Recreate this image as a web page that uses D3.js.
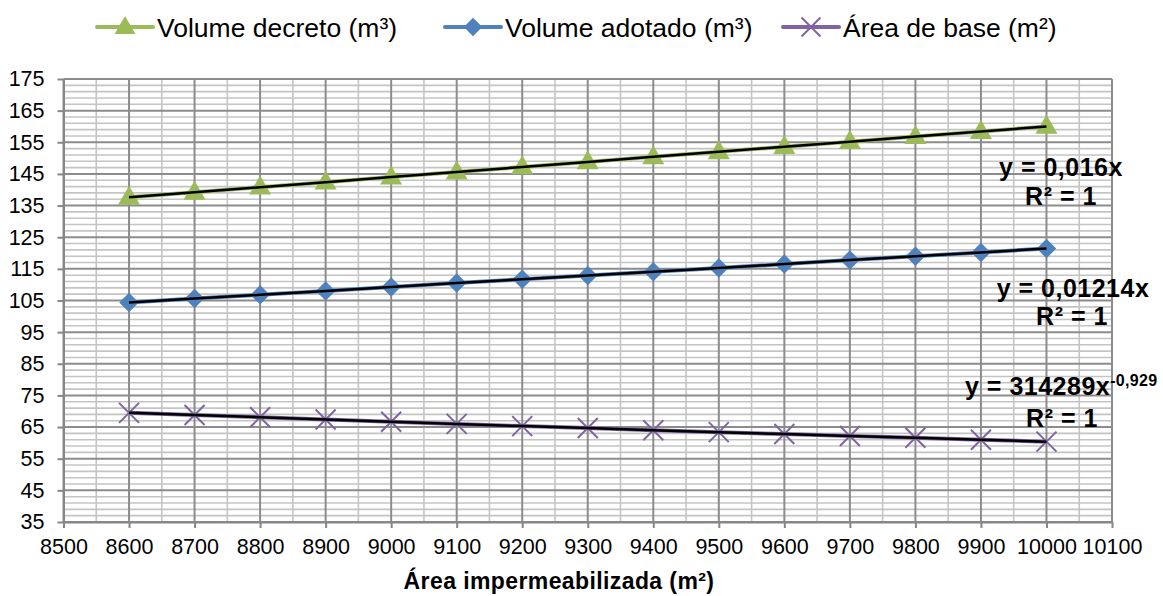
<!DOCTYPE html>
<html>
<head>
<meta charset="utf-8">
<script src="https://cdn.jsdelivr.net/npm/d3@7"></script>
<style>
  body { margin: 0; background: #fff; }
  svg { display: block; font-family: "Liberation Sans", Arial, sans-serif; }
</style>
</head>
<body>
<div class="svg-container"></div>
<script>
// data
const areas = [8600, 8700, 8800, 8900, 9000, 9100, 9200, 9300, 9400, 9500, 9600, 9700, 9800, 9900, 10000];
const volumeDecreto = [137.6, 139.2, 140.8, 142.4, 144.0, 145.6, 147.2, 148.8, 150.4, 152.0, 153.6, 155.2, 156.8, 158.4, 160.0];
const volumeAdotado = [104.4, 105.6, 106.8, 108.0, 109.3, 110.5, 111.7, 112.9, 114.1, 115.3, 116.5, 117.8, 119.0, 120.2, 121.4];
const areaBase = [69.5, 68.8, 68.1, 67.4, 66.7, 66.0, 65.3, 64.7, 64.0, 63.4, 62.8, 62.2, 61.6, 61.0, 60.4];

const xTicks = [8500, 8600, 8700, 8800, 8900, 9000, 9100, 9200, 9300, 9400, 9500, 9600, 9700, 9800, 9900, 10000, 10100];
const yTicks = [35, 45, 55, 65, 75, 85, 95, 105, 115, 125, 135, 145, 155, 165, 175];

const seriesNames = ["Volume decreto (m³)", "Volume adotado (m³)", "Área de base (m²)"];
const equations = ["y = 0,016x", "y = 0,01214x", "y = 314289x"];
const powerExponent = "-0,929";
const rSquared = "R² = 1";
const xTitle = "Área impermeabilizada (m²)";

const W = 1163, H = 596;
const plot = { left: 63.5, right: 1112, top: 79, bottom: 522 };

const svg = d3.select("div.svg-container").append("svg")
    .attr("width", W).attr("height", H);

const x = d3.scaleLinear().domain([8500, 10100]).range([plot.left, plot.right]);
const y = d3.scaleLinear().domain([35, 175]).range([plot.bottom, plot.top]);

// minor grid
const minorY = d3.range(35, 175.01, 2).filter(v => (v - 35) % 10 !== 0);
const minorX = d3.range(8550, 10100, 100);

const grid = svg.append("g");
grid.selectAll("line.minor-h").data(minorY).join("line")
    .attr("x1", plot.left).attr("x2", plot.right)
    .attr("y1", d => y(d)).attr("y2", d => y(d))
    .attr("stroke", "#c4c4c4").attr("stroke-width", 1.6);
grid.selectAll("line.minor-v").data(minorX).join("line")
    .attr("x1", d => x(d)).attr("x2", d => x(d))
    .attr("y1", plot.top).attr("y2", plot.bottom)
    .attr("stroke", "#c4c4c4").attr("stroke-width", 1.6);
grid.selectAll("line.major-h").data(yTicks).join("line")
    .attr("x1", plot.left).attr("x2", plot.right)
    .attr("y1", d => y(d)).attr("y2", d => y(d))
    .attr("stroke", "#8c8c8c").attr("stroke-width", 2);
grid.selectAll("line.major-v").data(xTicks).join("line")
    .attr("x1", d => x(d)).attr("x2", d => x(d))
    .attr("y1", plot.top).attr("y2", plot.bottom)
    .attr("stroke", "#8c8c8c").attr("stroke-width", 2);

// axes
const yAxisG = svg.append("g")
    .attr("transform", `translate(${plot.left},0)`)
    .call(d3.axisLeft(y).tickValues(yTicks).tickSize(6).tickPadding(13).tickSizeOuter(0));
const xAxisG = svg.append("g")
    .attr("transform", `translate(0,${plot.bottom})`)
    .call(d3.axisBottom(x).tickValues(xTicks).tickSize(6).tickPadding(11).tickSizeOuter(0).tickFormat(d3.format("d")));
[yAxisG, xAxisG].forEach(g => {
  g.select(".domain").attr("stroke", "#868686").attr("stroke-width", 2);
  g.selectAll(".tick line").attr("stroke", "#868686").attr("stroke-width", 2);
  g.selectAll(".tick text").attr("fill", "#000").style("font-size", "21.5px")
    .style("font-family", '"Liberation Sans", Arial, sans-serif');
});

// markers
const triangle = d3.symbol().type(d3.symbolTriangle);
const diamond = d3.symbol().type(d3.symbolSquare);

function drawMarker(g, type, color, cx, cy, s) {
  if (type === "triangle") {
    g.append("path").attr("d", triangle.size(210 * s)()).attr("fill", color)
      .attr("transform", `translate(${cx},${cy + 1})`);
  } else if (type === "diamond") {
    g.append("path").attr("d", diamond.size(190 * s)()).attr("fill", color)
      .attr("transform", `translate(${cx},${cy}) rotate(45)`);
  } else {
    const r = 10 * Math.sqrt(s);
    g.append("path").attr("d", `M${-r},${-r}L${r},${r}M${-r},${r}L${r},${-r}`)
      .attr("stroke", color).attr("stroke-width", 2).attr("fill", "none")
      .attr("transform", `translate(${cx},${cy})`);
  }
}

const series = [
  { name: seriesNames[0], values: volumeDecreto, color: "#9bbb59", marker: "triangle" },
  { name: seriesNames[1], values: volumeAdotado, color: "#4f81bd", marker: "diamond" },
  { name: seriesNames[2], values: areaBase, color: "#8064a2", marker: "x" }
];

const line = d3.line().x((d, i) => x(areas[i])).y(d => y(d));

series.forEach(s => {
  const g = svg.append("g");
  g.append("path").datum(s.values).attr("d", line)
    .attr("fill", "none").attr("stroke", s.color).attr("stroke-width", 4);
  s.values.forEach((v, i) => drawMarker(g, s.marker, s.color, x(areas[i]), y(v), 1));
});

// trendlines on top
series.forEach(s => {
  svg.append("path").datum(s.values).attr("d", line)
    .attr("fill", "none").attr("stroke", "#000").attr("stroke-width", 2.5);
});

// trendline labels
const eqStyle = sel => sel.attr("font-weight", "bold").style("font-size", "25px")
  .style("letter-spacing", "0.5px").attr("fill", "#000");

svg.append("text").call(eqStyle).attr("text-anchor", "middle").attr("x", 1061).attr("y", 176).text(equations[0]);
svg.append("text").call(eqStyle).attr("text-anchor", "middle").attr("x", 1061).attr("y", 205).text(rSquared);
svg.append("text").call(eqStyle).attr("text-anchor", "middle").attr("x", 1073).attr("y", 297).text(equations[1]);
svg.append("text").call(eqStyle).attr("text-anchor", "middle").attr("x", 1072).attr("y", 325).text(rSquared);
const eq3 = svg.append("text").call(eqStyle).attr("x", 965).attr("y", 395);
eq3.append("tspan").text(equations[2]);
eq3.append("tspan").attr("dy", -9).style("font-size", "16px").style("letter-spacing", "0.3px").text(powerExponent);
svg.append("text").call(eqStyle).attr("text-anchor", "middle").attr("x", 1062).attr("y", 427).text(rSquared);

// x axis title
svg.append("text").attr("x", 559).attr("y", 589).attr("text-anchor", "middle")
  .attr("font-weight", "bold").style("font-size", "23px").style("letter-spacing", "0.4px")
  .text(xTitle);

// legend
const legendX = [97, 445, 783];
const legend = svg.append("g");
series.forEach((s, i) => {
  const lg = legend.append("g").attr("transform", `translate(${legendX[i]},27)`);
  lg.append("line").attr("x1", 0).attr("x2", 56).attr("y1", 0).attr("y2", 0)
    .attr("stroke", s.color).attr("stroke-width", 4).attr("stroke-linecap", "round");
  drawMarker(lg, s.marker, s.color, 28, 0, 0.9);
  lg.append("text").attr("x", 60).attr("y", 10).style("font-size", "26.5px").attr("fill", "#000").text(s.name);
});
</script>
</body>
</html>
